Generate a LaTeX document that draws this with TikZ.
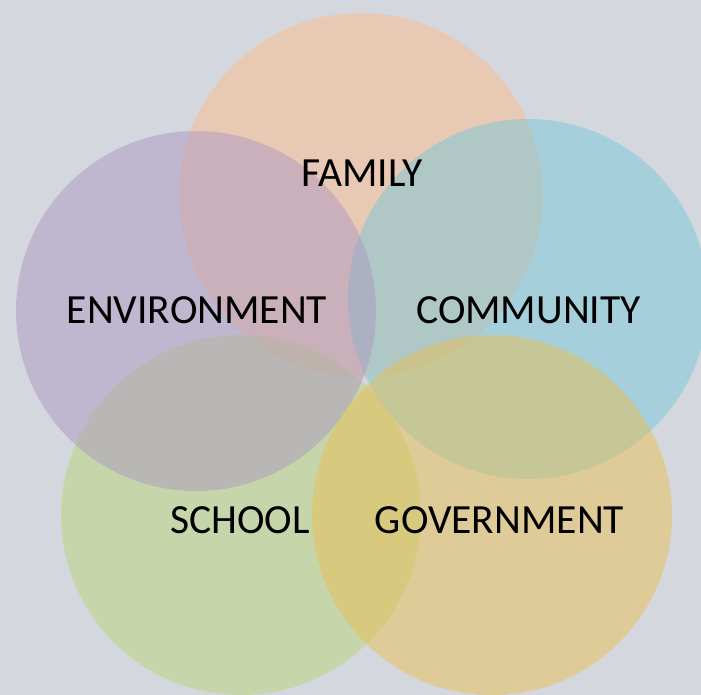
\documentclass[tikz,border=0pt]{standalone}
\usepackage{fontspec}
\setmainfont{Carlito}
\definecolor{bgc}{RGB}{212,216,222}
\definecolor{famc}{RGB}{252,188,138}
\definecolor{envc}{RGB}{172,152,194}
\definecolor{comc}{RGB}{120,200,218}
\definecolor{schc}{RGB}{188,212,122}
\definecolor{govc}{RGB}{232,192,82}
\tikzset{
  blob/.style={circle, draw=none, inner sep=0pt, minimum size=#1, fill opacity=0.5},
  lbl/.style={anchor=base, inner sep=0pt, text=black, font=\fontsize{41.5}{48}\selectfont}
}
\begin{document}
\begin{tikzpicture}[x=1pt,y=-1pt]
\useasboundingbox (0,0) rectangle (701,695);
\clip (0,0) rectangle (701,695);
\fill[bgc] (0,0) rectangle (701,695);
\node[blob=364pt, fill=famc] (family) at (361,195) {};
\node[blob=360pt, fill=comc] (community) at (528,299) {};
\node[blob=360pt, fill=schc] (school) at (241,515) {};
\node[blob=360pt, fill=envc] (environment) at (196,311) {};
\node[blob=360pt, fill=govc] (government) at (492,515) {};
\node[lbl] (tfam) at (362,187) {FAMILY};
\node[lbl] (tenv) at (197,323) {ENVIRONMENT};
\node[lbl] (tcom) at (528.5,323) {COMMUNITY};
\node[lbl] (tsch) at (240,533) {SCHOOL};
\node[lbl] (tgov) at (499.5,533) {GOVERNMENT};
\end{tikzpicture}
\end{document}
